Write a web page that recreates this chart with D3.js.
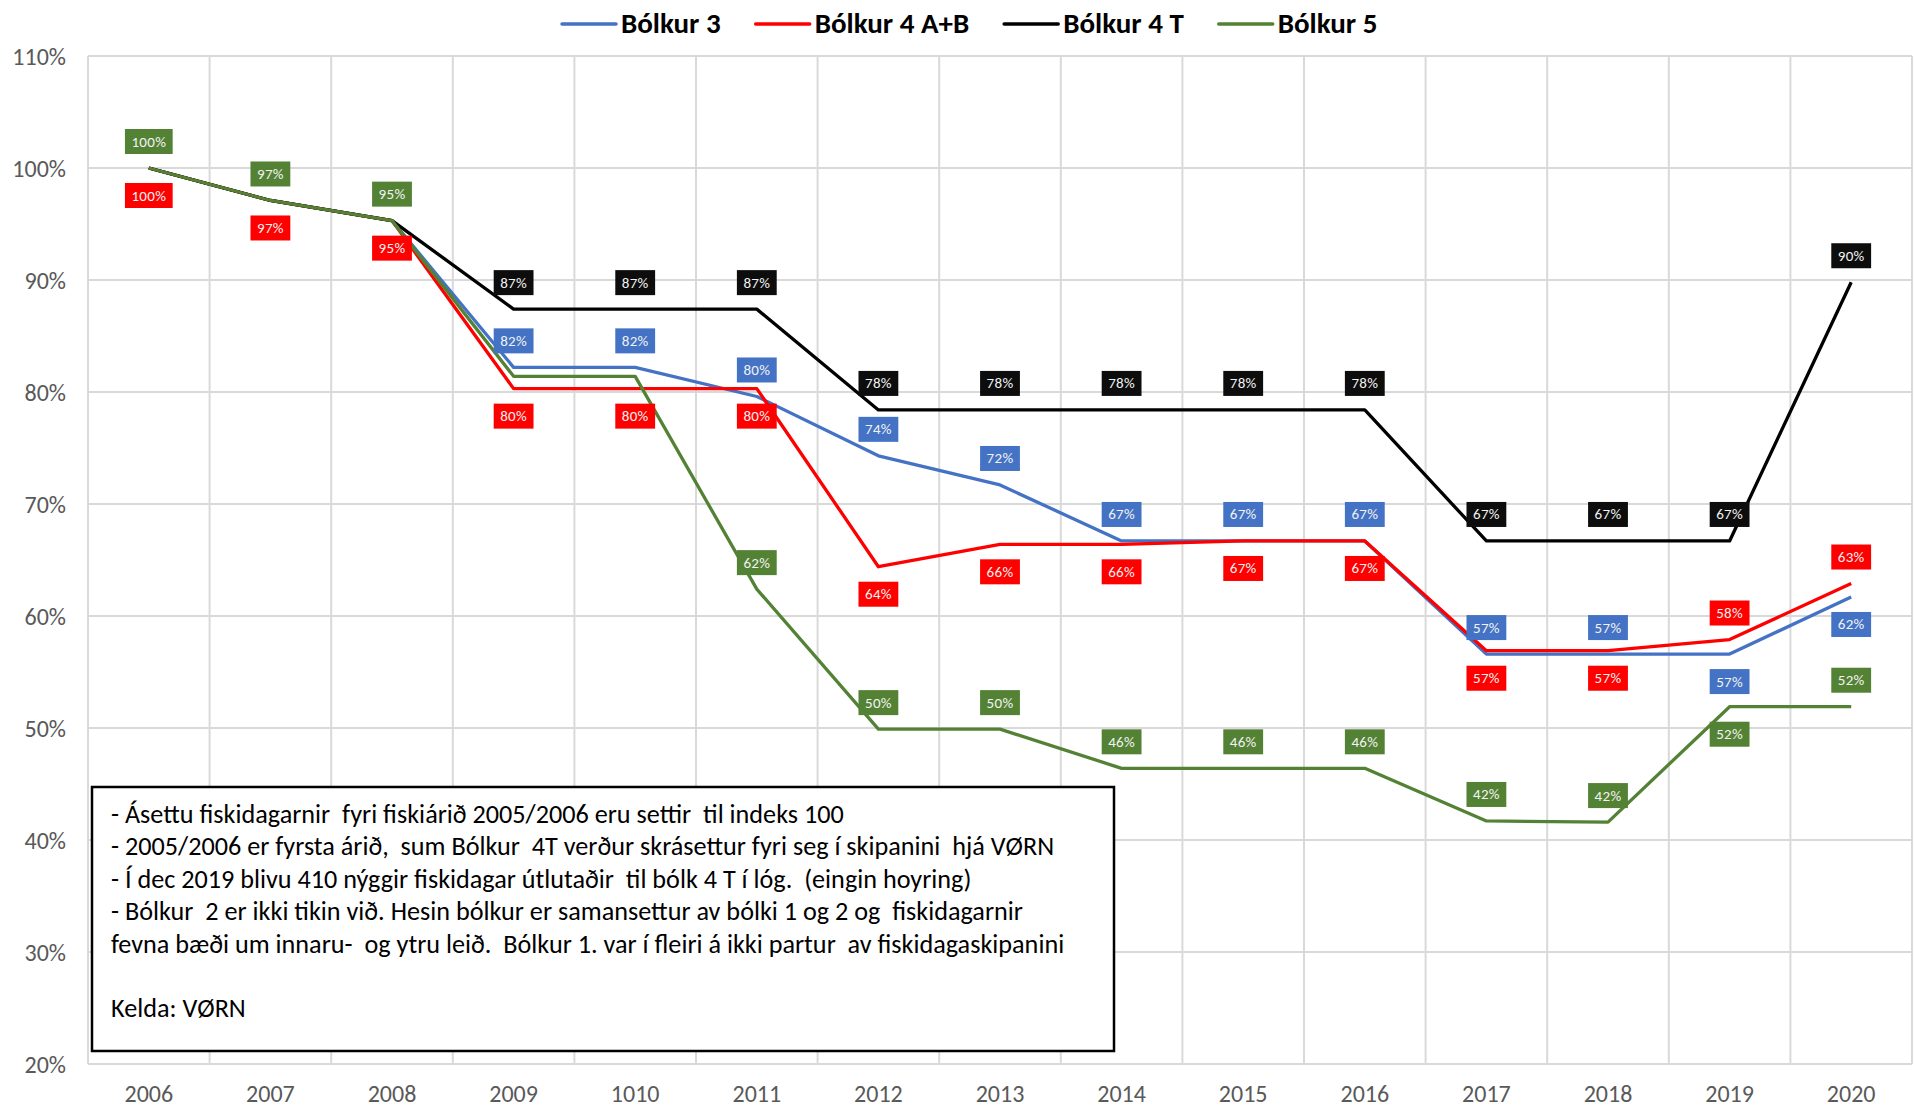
<!DOCTYPE html>
<html>
<head>
<meta charset="utf-8">
<script src="https://cdn.jsdelivr.net/npm/d3@7"></script>
<style>
	body { margin: 0; background: #fff; }
	text { font-family: Calibri, Carlito, sans-serif; }
</style>
</head>
<body>
<svg id="chart" width="1914" height="1109"></svg>
<script>
// categories (the source has "1010" instead of 2010, kept as is)
const years = ['2006', '2007', '2008', '2009', '1010', '2011', '2012', '2013', '2014', '2015', '2016', '2017', '2018', '2019', '2020'];

// index values in %
const bolkur3 = [100, 97.1, 95.3, 82.2, 82.2, 79.6, 74.3, 71.7, 66.7, 66.7, 66.7, 56.6, 56.6, 56.6, 61.7];
const bolkur4AB = [100, 97.1, 95.3, 80.3, 80.3, 80.3, 64.4, 66.4, 66.4, 66.7, 66.7, 56.9, 56.9, 57.9, 62.9];
const bolkur4T = [100, 97.1, 95.3, 87.4, 87.4, 87.4, 78.4, 78.4, 78.4, 78.4, 78.4, 66.7, 66.7, 66.7, 89.8];
const bolkur5 = [100, 97.1, 95.3, 81.4, 81.4, 62.4, 49.9, 49.9, 46.4, 46.4, 46.4, 41.7, 41.6, 51.9, 51.9];

// where each data label sits: 'a' above, 'b' below, null = no label
const labels3 = [null, null, null, 'a', 'a', 'a', 'a', 'a', 'a', 'a', 'a', 'a', 'a', 'b', 'b'];
const labels4AB = ['b', 'b', 'b', 'b', 'b', 'b', 'b', 'b', 'b', 'b', 'b', 'b', 'b', 'a', 'a'];
const labels4T = [null, null, null, 'a', 'a', 'a', 'a', 'a', 'a', 'a', 'a', 'a', 'a', 'a', 'a'];
const labels5 = ['a', 'a', 'a', null, null, 'a', 'a', 'a', 'a', 'a', 'a', 'a', 'a', 'b', 'a'];

const yTicks = [20, 30, 40, 50, 60, 70, 80, 90, 100, 110];

const notes = [
	'- Ásettu fiskidagarnir  fyri fiskiárið 2005/2006 eru settir  til indeks 100',
	'- 2005/2006 er fyrsta árið,  sum Bólkur  4T verður skrásettur fyri seg í skipanini  hjá VØRN',
	'- Í dec 2019 blivu 410 nýggir fiskidagar útlutaðir  til bólk 4 T í lóg.  (eingin hoyring)',
	'- Bólkur  2 er ikki tikin við. Hesin bólkur er samansettur av bólki 1 og 2 og  fiskidagarnir',
	'fevna bæði um innaru-  og ytru leið.  Bólkur 1. var í fleiri á ikki partur  av fiskidagaskipanini',
	'',
	'Kelda: VØRN'
];

const series = [
	{name: 'Bólkur 3', values: bolkur3, labels: labels3, color: '#4472C4', box: '#4472C4'},
	{name: 'Bólkur 4 A+B', values: bolkur4AB, labels: labels4AB, color: '#FF0000', box: '#FF0000'},
	{name: 'Bólkur 4 T', values: bolkur4T, labels: labels4T, color: '#000000', box: '#0d0d0d'},
	{name: 'Bólkur 5', values: bolkur5, labels: labels5, color: '#548235', box: '#548235'}
];

const svg = d3.select('#chart');
const plotLeft = 88, plotRight = 1912, plotTop = 56, plotBottom = 1064;

const x = d3.scaleBand().domain(years).range([plotLeft, plotRight]).padding(0);
const y = d3.scaleLinear().domain([20, 110]).range([plotBottom, plotTop]);
const cx = d => x(d) + x.bandwidth() / 2;

// grid
const grid = svg.append('g');
grid.selectAll('.hgrid').data(yTicks).enter()
	.append('line')
	.attr('x1', plotLeft).attr('x2', plotRight)
	.attr('y1', d => y(d)).attr('y2', d => y(d))
	.attr('stroke', '#d9d9d9').attr('stroke-width', 2);
grid.selectAll('.vgrid').data(years.concat(['end'])).enter()
	.append('line')
	.attr('x1', (d, i) => plotLeft + i * x.bandwidth()).attr('x2', (d, i) => plotLeft + i * x.bandwidth())
	.attr('y1', plotTop).attr('y2', plotBottom)
	.attr('stroke', '#d9d9d9').attr('stroke-width', 2);

// y axis labels
const yAxis = svg.append('g')
	.attr('transform', `translate(${plotLeft - 22},0)`)
	.call(d3.axisLeft(y).tickValues(yTicks).tickSize(0).tickFormat(d => d + '%'));
yAxis.select('.domain').remove();
yAxis.selectAll('text')
	.attr('x', 0)
	.attr('dy', '0.34em')
	.style('font-family', 'Calibri, Carlito, sans-serif')
	.style('font-size', '24px')
	.attr('fill', '#595959');

// x axis labels
const xAxis = svg.append('g')
	.attr('transform', `translate(0,${plotBottom})`)
	.call(d3.axisBottom(x).tickSize(0));
xAxis.select('.domain').remove();
xAxis.selectAll('text')
	.attr('y', 38)
	.attr('dy', 0)
	.style('font-family', 'Calibri, Carlito, sans-serif')
	.style('font-size', '24px')
	.attr('fill', '#595959');

// lines
const line = d3.line()
	.x((d, i) => cx(years[i]))
	.y(d => y(d));

svg.append('g').selectAll('path').data(series).enter()
	.append('path')
	.attr('d', s => line(s.values))
	.attr('fill', 'none')
	.attr('stroke', s => s.color)
	.attr('stroke-width', 3.3)
	.attr('stroke-linejoin', 'round');

// data labels
const labelLayer = svg.append('g');
series.forEach(s => {
	s.values.forEach((v, i) => {
		const pos = s.labels[i];
		if (!pos) return;
		const ly = y(v) + (pos === 'a' ? -26.5 : 27.5);
		const g = labelLayer.append('g')
			.attr('transform', `translate(${cx(years[i])},${ly})`);
		const rect = g.append('rect');
		const t = g.append('text')
			.text(Math.round(v) + '%')
			.attr('text-anchor', 'middle')
			.attr('y', 5)
			.attr('fill', '#f2f2f2')
			.style('font-size', '15px')
			.style('letter-spacing', '0.3px');
		const w = t.node().getComputedTextLength() + 13;
		rect.attr('x', -w / 2).attr('y', -12.5)
			.attr('width', w).attr('height', 25)
			.attr('fill', s.box);
	});
});

// legend
const legend = svg.append('g').attr('transform', 'translate(562,0)');
let lx = 0;
series.forEach(s => {
	legend.append('line')
		.attr('x1', lx).attr('x2', lx + 54)
		.attr('y1', 24).attr('y2', 24)
		.attr('stroke', s.color).attr('stroke-width', 3.5)
		.attr('stroke-linecap', 'round');
	const t = legend.append('text')
		.attr('x', lx + 59).attr('y', 33)
		.style('font-size', '29px')
		.style('font-weight', 'bold')
		.attr('fill', '#000')
		.text(s.name);
	lx += 59 + t.node().getComputedTextLength() + 35;
});

// annotation box
svg.append('rect')
	.attr('x', 92).attr('y', 787)
	.attr('width', 1022).attr('height', 264)
	.attr('fill', '#fff')
	.attr('stroke', '#000').attr('stroke-width', 2.5);

svg.append('g').selectAll('text').data(notes).enter()
	.append('text')
	.attr('x', 111)
	.attr('y', (d, i) => 823 + i * 32.4)
	.style('font-size', '26.2px')
	.style('white-space', 'pre')
	.attr('fill', '#000')
	.text(d => d);
</script>
</body>
</html>
